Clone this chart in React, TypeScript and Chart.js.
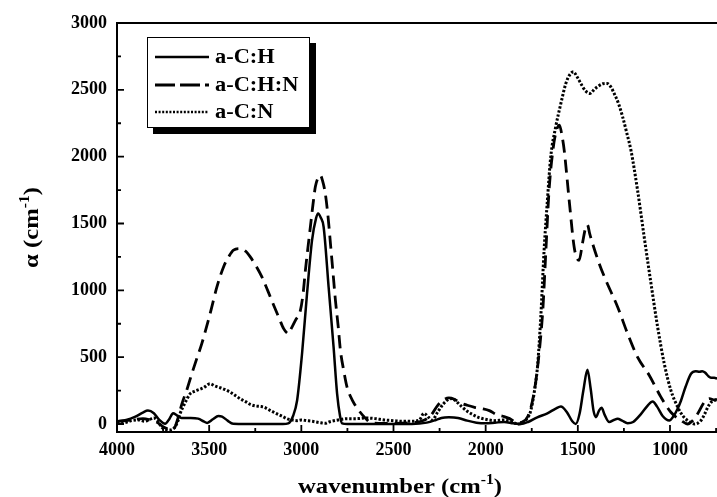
import React, { useEffect, useRef } from "react";
import { Chart, registerables } from "chart.js";

Chart.register(...registerables);

// ---- data ----
const X_TICKS = [4000, 3500, 3000, 2500, 2000, 1500, 1000];
const Y_TICKS = [0, 500, 1000, 1500, 2000, 2500, 3000];
const SERIES_LABELS = ["a-C:H", "a-C:H:N", "a-C:N"];

const ACH_WN = [4000, 3950, 3900, 3860, 3832, 3800, 3770, 3739, 3715, 3696, 3675, 3650, 3600, 3560, 3530, 3511, 3480, 3450, 3430, 3400, 3370, 3300, 3200, 3100, 3071, 3045, 3023, 2996, 2969, 2942, 2920, 2909, 2895, 2879, 2852, 2825, 2806, 2790, 2779, 2750, 2500, 2400, 2320, 2270, 2240, 2200, 2150, 2100, 2050, 2000, 1950, 1900, 1850, 1810, 1770, 1720, 1665, 1620, 1592, 1560, 1530, 1511, 1490, 1470, 1448, 1430, 1415, 1402, 1385, 1371, 1355, 1330, 1305, 1284, 1260, 1230, 1200, 1160, 1120, 1094, 1070, 1040, 1004, 980, 960, 940, 915, 886, 860, 840, 825, 810, 790, 777, 760, 745];
const ACH_A = [20, 30, 55, 85, 100, 80, 30, 2, 40, 80, 65, 45, 45, 40, 20, 8, 35, 60, 55, 25, 2, 0, 0, 0, 5, 60, 176, 528, 977, 1374, 1540, 1575, 1545, 1474, 1025, 575, 228, 60, 5, 0, 0, 0, 10, 30, 45, 50, 45, 25, 10, 5, 10, 15, 5, 0, 15, 50, 80, 115, 131, 90, 20, 0, 80, 250, 405, 260, 100, 51, 100, 121, 70, 14, 30, 40, 25, 6, 15, 70, 140, 169, 130, 60, 26, 60, 110, 176, 280, 376, 395, 390, 395, 385, 355, 346, 345, 340];

const ACHN_WN = [4000, 3950, 3900, 3860, 3820, 3780, 3750, 3720, 3690, 3670, 3648, 3620, 3594, 3567, 3540, 3495, 3458, 3422, 3390, 3368, 3332, 3300, 3277, 3245, 3214, 3180, 3150, 3120, 3096, 3075, 3069, 3060, 3030, 3005, 2990, 2978, 2965, 2951, 2937, 2924, 2910, 2897, 2885, 2870, 2855, 2842, 2828, 2815, 2800, 2788, 2770, 2752, 2720, 2688, 2650, 2625, 2580, 2500, 2400, 2350, 2300, 2260, 2230, 2200, 2170, 2140, 2100, 2060, 2020, 1980, 1940, 1900, 1870, 1840, 1820, 1800, 1770, 1745, 1725, 1705, 1690, 1675, 1656, 1635, 1620, 1600, 1585, 1574, 1547, 1520, 1505, 1493, 1475, 1457, 1448, 1435, 1420, 1384, 1348, 1284, 1230, 1176, 1112, 1049, 995, 940, 904, 880, 850, 814, 786, 760, 745];
const ACHN_A = [20, 25, 35, 40, 30, 10, -20, -35, -30, 40, 151, 260, 376, 490, 601, 825, 1025, 1175, 1260, 1300, 1312, 1290, 1250, 1180, 1100, 990, 888, 790, 713, 678, 676, 700, 780, 850, 980, 1150, 1310, 1474, 1640, 1774, 1840, 1861, 1820, 1724, 1550, 1350, 1130, 925, 730, 551, 400, 276, 170, 101, 40, 10, 5, 5, 10, 20, 60, 140, 180, 195, 185, 160, 140, 125, 115, 100, 70, 55, 40, 15, 10, 15, 60, 180, 350, 600, 850, 1250, 1750, 2050, 2174, 2236, 2150, 2049, 1674, 1324, 1240, 1225, 1350, 1474, 1490, 1420, 1350, 1200, 1075, 875, 676, 500, 363, 201, 88, 26, 0, 20, 76, 163, 190, 180, 185];

const ACN_WN = [4000, 3960, 3920, 3880, 3850, 3820, 3800, 3780, 3760, 3740, 3710, 3690, 3670, 3658, 3630, 3603, 3576, 3550, 3531, 3495, 3470, 3440, 3410, 3386, 3360, 3332, 3300, 3277, 3250, 3223, 3200, 3186, 3160, 3132, 3100, 3078, 3050, 3023, 3000, 2970, 2940, 2900, 2870, 2850, 2800, 2750, 2700, 2650, 2600, 2550, 2500, 2450, 2400, 2360, 2335, 2310, 2290, 2260, 2230, 2200, 2180, 2160, 2130, 2100, 2070, 2040, 2000, 1950, 1900, 1870, 1840, 1820, 1790, 1770, 1755, 1735, 1719, 1701, 1683, 1665, 1647, 1620, 1592, 1565, 1545, 1524, 1505, 1484, 1460, 1433, 1410, 1393, 1365, 1342, 1320, 1303, 1280, 1257, 1235, 1212, 1176, 1140, 1103, 1067, 1031, 995, 958, 930, 904, 868, 832, 810, 795, 775, 759, 745];
const ACN_A = [5, 10, 25, 30, 20, 35, 45, 25, -20, -40, -45, -30, 20, 76, 160, 226, 246, 260, 271, 301, 285, 271, 255, 238, 215, 189, 165, 146, 135, 131, 125, 114, 95, 76, 55, 39, 30, 25, 30, 25, 20, 10, 5, 15, 30, 40, 40, 45, 40, 30, 25, 20, 20, 30, 80, 50, 30, 90, 150, 185, 190, 170, 130, 95, 70, 50, 35, 25, 30, 20, 5, 0, 20, 50, 101, 250, 426, 800, 1300, 1674, 1999, 2223, 2398, 2548, 2610, 2635, 2600, 2548, 2495, 2473, 2505, 2523, 2545, 2548, 2520, 2473, 2400, 2298, 2180, 2049, 1749, 1399, 1050, 725, 451, 251, 126, 60, 26, 0, 26, 80, 126, 165, 176, 180];

const FONT = '"Liberation Serif", "Times New Roman", Times, serif';
const STRETCH = 1.12;

type Part = { text: string; sup?: boolean };

function drawRich(ctx: CanvasRenderingContext2D, parts: Part[], size: number, cx: number, baseY: number) {
  const supSize = Math.round(size * 0.62);
  const widths = parts.map((p) => {
    ctx.font = `bold ${p.sup ? supSize : size}px ${FONT}`;
    return ctx.measureText(p.text).width;
  });
  const total = widths.reduce((s, w) => s + w, 0);
  ctx.save();
  ctx.translate(cx, baseY);
  ctx.scale(STRETCH, 1);
  let xx = -total / 2;
  ctx.textBaseline = "alphabetic";
  ctx.textAlign = "left";
  parts.forEach((p, i) => {
    ctx.font = `bold ${p.sup ? supSize : size}px ${FONT}`;
    ctx.fillText(p.text, xx, p.sup ? -size * 0.42 : 0);
    xx += widths[i];
  });
  ctx.restore();
}

const framePlugin = {
  id: "frame",
  beforeDraw(chart: any) {
    const { ctx, width, height } = chart;
    ctx.save();
    ctx.fillStyle = "#fff";
    ctx.fillRect(0, 0, width, height);
    ctx.restore();
  },
  afterDraw(chart: any) {
    const { ctx, chartArea: a, scales } = chart;
    const xs = scales.x;
    const ys = scales.y;
    ctx.save();
    ctx.strokeStyle = "#000";
    ctx.fillStyle = "#000";
    ctx.lineCap = "butt";
    ctx.setLineDash([]);
    // axis lines
    ctx.lineWidth = 2;
    ctx.beginPath();
    ctx.moveTo(a.left - 1, a.top);
    ctx.lineTo(a.right, a.top);
    ctx.moveTo(a.left, a.top);
    ctx.lineTo(a.left, a.bottom + 1);
    ctx.moveTo(a.left - 1, a.bottom);
    ctx.lineTo(a.right, a.bottom);
    ctx.stroke();

    // inward tick marks
    ctx.lineWidth = 1.8;
    ctx.beginPath();
    const xStep = X_TICKS[0] - X_TICKS[1];
    X_TICKS.forEach((v) => {
      const px = xs.getPixelForValue(v);
      ctx.moveTo(px, a.bottom);
      ctx.lineTo(px, a.bottom - 7);
      const m = v - xStep / 2;
      if (m >= xs.min) {
        const pm = xs.getPixelForValue(m);
        ctx.moveTo(pm, a.bottom);
        ctx.lineTo(pm, a.bottom - 4);
      }
    });
    const yStep = Y_TICKS[1] - Y_TICKS[0];
    Y_TICKS.forEach((v) => {
      const py = ys.getPixelForValue(v);
      ctx.moveTo(a.left, py);
      ctx.lineTo(a.left + 7, py);
      const m = v + yStep / 2;
      if (m < ys.max) {
        const pm = ys.getPixelForValue(m);
        ctx.moveTo(a.left, pm);
        ctx.lineTo(a.left + 4, pm);
      }
    });
    ctx.stroke();

    // axis titles
    drawRich(ctx, [{ text: "wavenumber (cm" }, { text: "-1", sup: true }, { text: ")" }], 22, (a.left + a.right) / 2 - 17, a.bottom + 61);
    ctx.save();
    ctx.translate(38, (a.top + a.bottom) / 2);
    ctx.rotate(-Math.PI / 2);
    drawRich(ctx, [{ text: "α (cm" }, { text: "-1", sup: true }, { text: ")" }], 22, 0, 0);
    ctx.restore();

    // legend box with drop shadow
    const bx = a.left + 30;
    const by = a.top + 14;
    const bw = 163;
    const bh = 91;
    ctx.fillStyle = "#000";
    ctx.fillRect(bx + 6, by + 6, bw, bh);
    ctx.fillStyle = "#fff";
    ctx.fillRect(bx, by, bw, bh);
    ctx.lineWidth = 1;
    ctx.strokeStyle = "#000";
    ctx.strokeRect(bx + 0.5, by + 0.5, bw - 1, bh - 1);

    const rows = [20, 48, 75];
    const dashes = [[], [20, 5], [2, 1.6]];
    const widthsL = [2.4, 2.8, 2.4];
    chart.data.datasets.forEach((ds: any, i: number) => {
      const ry = by + rows[i];
      ctx.save();
      ctx.strokeStyle = "#000";
      ctx.lineWidth = widthsL[i];
      ctx.setLineDash(dashes[i]);
      ctx.beginPath();
      ctx.moveTo(bx + 8, ry);
      ctx.lineTo(bx + 62, ry);
      ctx.stroke();
      ctx.restore();
      ctx.save();
      ctx.fillStyle = "#000";
      ctx.translate(bx + 68, ry);
      ctx.scale(STRETCH, 1);
      ctx.font = `bold 20px ${FONT}`;
      ctx.textBaseline = "middle";
      ctx.textAlign = "left";
      ctx.fillText(ds.label, 0, 1);
      ctx.restore();
    });
    ctx.restore();
  },
};

const pts = (wn: number[], a: number[]) => wn.map((w, i) => ({ x: w, y: a[i] }));

export default function App() {
  const ref = useRef<HTMLCanvasElement | null>(null);
  useEffect(() => {
    if (!ref.current) return;
    const tickFont = { family: FONT, size: 18, weight: "bold" as const };
    const chart = new Chart(ref.current, {
      type: "line",
      data: {
        datasets: [
          {
            label: SERIES_LABELS[0],
            data: pts(ACH_WN, ACH_A),
            borderColor: "#000",
            borderWidth: 2.5,
            pointRadius: 0,
            fill: false,
            cubicInterpolationMode: "monotone",
          },
          {
            label: SERIES_LABELS[1],
            data: pts(ACHN_WN, ACHN_A),
            borderColor: "#000",
            borderWidth: 2.8,
            borderDash: [13, 7],
            pointRadius: 0,
            fill: false,
            cubicInterpolationMode: "monotone",
          },
          {
            label: SERIES_LABELS[2],
            data: pts(ACN_WN, ACN_A),
            borderColor: "#000",
            borderWidth: 3,
            borderDash: [2.4, 1.8],
            pointRadius: 0,
            fill: false,
            cubicInterpolationMode: "monotone",
          },
        ],
      },
      options: {
        responsive: false,
        animation: false,
        events: [],
        layout: { padding: { top: 23, left: 0, right: 0, bottom: 0 } },
        plugins: { legend: { display: false }, tooltip: { enabled: false } },
        scales: {
          x: {
            type: "linear",
            reverse: true,
            min: 745,
            max: 4000,
            afterBuildTicks: (s: any) => {
              s.ticks = X_TICKS.map((v) => ({ value: v }));
            },
            afterFit: (s: any) => {
              s.height = 65;
            },
            grid: { display: false, drawTicks: false },
            border: { display: false },
            ticks: {
              autoSkip: false,
              maxRotation: 0,
              minRotation: 0,
              padding: 8,
              color: "#000",
              font: tickFont,
              callback: (v: any) => String(v),
            },
          },
          y: {
            type: "linear",
            min: -60,
            max: 3000,
            afterBuildTicks: (s: any) => {
              s.ticks = Y_TICKS.map((v) => ({ value: v }));
            },
            afterFit: (s: any) => {
              s.width = 117;
            },
            grid: { display: false, drawTicks: false },
            border: { display: false },
            ticks: {
              autoSkip: false,
              padding: 10,
              color: "#000",
              font: tickFont,
              callback: (v: any) => String(v),
            },
          },
        },
      },
      plugins: [framePlugin],
    });
    return () => chart.destroy();
  }, []);
  return (
    <div style={{ position: "absolute", left: 0, top: 0, width: 717, height: 497 }}>
      <canvas ref={ref} width={717} height={497} style={{ display: "block" }} />
    </div>
  );
}
